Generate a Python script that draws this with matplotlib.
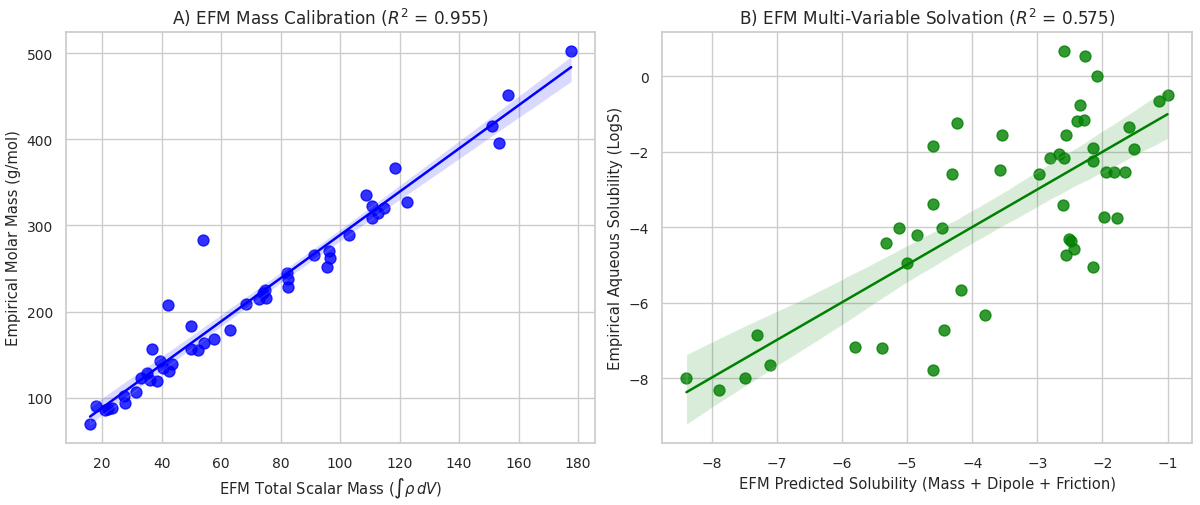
import matplotlib
matplotlib.use("Agg")
import matplotlib.pyplot as plt
import seaborn as sns
import numpy as np

mass_x = [15.9, 17.9, 20.8, 22.0, 23.2, 27.3, 27.5, 31.4, 33.2, 35.2, 36.1, 38.4, 36.9,
          39.5, 40.6, 42.3, 43.5, 42.2, 49.7, 49.7, 52.1, 54.3, 53.9, 57.7, 62.8, 68.5,
          72.6, 74.8, 75.2, 74.1, 82.1, 82.5, 82.6, 91.2, 96.3, 96.5, 95.5, 102.9, 108.7,
          110.7, 110.7, 112.6, 114.7, 118.6, 122.4, 151.1, 153.6, 156.4, 177.7]
mass_y = [69.5, 90, 86, 87, 88.4, 102, 93.4, 106, 122.4, 129, 120, 119, 157,
          142.5, 134, 131.3, 139, 208, 183.4, 156.4, 155.6, 163, 283.4, 168.3, 178, 209.3,
          214.3, 225.5, 216, 221, 245, 238, 228, 266, 270, 262, 252, 288.4, 335.5,
          323, 309, 314.7, 320, 367, 327, 416, 396, 452, 503]

sol_x = [-8.39, -7.89, -7.49, -7.31, -7.11, -5.80, -5.39, -5.33, -5.13, -5.0, -4.85,
         -4.60, -4.60, -4.61, -4.47, -4.44, -4.31, -4.23, -4.18, -3.80, -3.57, -3.54,
         -2.97, -2.81, -2.66, -2.59, -2.59, -2.56, -2.61, -2.51, -2.48, -2.44, -2.56,
         -2.39, -2.34, -2.29, -2.27, -2.15, -2.15, -2.15, -2.09, -1.98, -1.95, -1.82,
         -1.78, -1.66, -1.59, -1.52, -1.13, -1.0]
sol_y = [-8.0, -8.32, -8.0, -6.86, -7.65, -7.18, -7.19, -4.42, -4.01, -4.95, -4.22,
         -1.84, -3.39, -7.79, -4.01, -6.73, -2.58, -1.25, -5.66, -6.34, -2.49, -1.57,
         -2.58, -2.18, -2.05, -2.18, 0.68, -1.56, -3.41, -4.31, -4.38, -4.57, -4.74,
         -1.19, -0.75, -1.17, 0.54, -1.91, -2.25, -5.05, 0.0, -3.73, -2.54, -2.55,
         -3.75, -2.54, -1.34, -1.92, -0.65, -0.50]

sns.set_theme(style="whitegrid")
plt.rcParams['font.family'] = ['DejaVu Sans']
plt.rcParams['xtick.labelsize'] = 10
plt.rcParams['ytick.labelsize'] = 10
plt.rcParams['axes.labelsize'] = 10.6
plt.rcParams['axes.titlesize'] = 12.2

fig, axes = plt.subplots(1, 2, figsize=(12, 5.06), dpi=100)
fig.subplots_adjust(left=0.055, right=0.993, top=0.935, bottom=0.1225, wspace=0.127)

ax = axes[0]
sns.regplot(x=np.array(mass_x), y=np.array(mass_y), ax=ax, color='blue', seed=0,
            scatter_kws={'s': 62, 'alpha': 0.8}, line_kws={'linewidth': 1.8})
ax.set_title(r"A) EFM Mass Calibration ($R^2$ = 0.955)")
ax.set_xlabel(r"EFM Total Scalar Mass ($\int \rho \, dV$)")
ax.set_ylabel("Empirical Molar Mass (g/mol)")
ax.set_xticks([20, 40, 60, 80, 100, 120, 140, 160, 180])

ax = axes[1]
sns.regplot(x=np.array(sol_x), y=np.array(sol_y), ax=ax, color='green', seed=0,
            scatter_kws={'s': 62, 'alpha': 0.8}, line_kws={'linewidth': 1.8})
ax.set_title(r"B) EFM Multi-Variable Solvation ($R^2$ = 0.575)")
ax.set_xlabel("EFM Predicted Solubility (Mass + Dipole + Friction)")
ax.set_ylabel("Empirical Aqueous Solubility (LogS)")

plt.savefig("out.png", dpi=100)
